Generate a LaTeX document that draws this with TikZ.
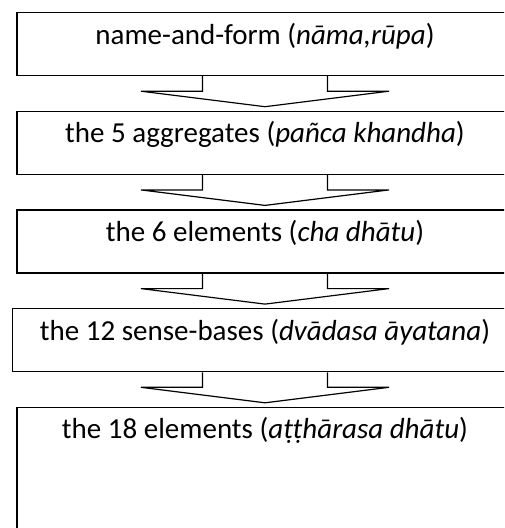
\documentclass[tikz,border=0pt]{standalone}
\usepackage{fontspec}
\setmainfont{Carlito}
\usetikzlibrary{positioning,math}

\begin{document}
\begin{tikzpicture}[x=1pt,y=-1pt,node distance=34.5pt,
    stagebox/.style={draw, line width=1.2pt, minimum width=496pt, inner xsep=0pt, inner ysep=0pt,
      text height=31.5pt, text depth=31.5pt, font=\fontsize{29}{35}\selectfont},
    notch/.style={line width=1.2pt}]
      \tikzmath{\stem = 62.5; \wing = 124; \drop = 15; \gap = 4;}
      \clip (0,0) rectangle (504,528);
      \node[stagebox, anchor=north] (nama) at (265,12) {name-and-form (\textit{nāma,rūpa})};
      \node[stagebox, below=of nama] (khandha) {the 5 aggregates (\textit{pañca khandha})};
      \node[stagebox, below=of khandha] (cha) {the 6 elements (\textit{cha dhātu})};
      \node[stagebox, below=of cha, minimum width=505pt] (ayatana) {the 12 sense-bases (\textit{dvādasa āyatana})};
      \node[stagebox, below=of ayatana, text depth=150pt] (dhatu) {the 18 elements (\textit{aṭṭhārasa dhātu})};
      \foreach \a/\b in {nama/khandha, khandha/cha, cha/ayatana, ayatana/dhatu}
        \draw[notch] ([xshift=-\stem pt]\a.south) -- ([xshift=-\stem pt, yshift=-\drop pt]\a.south)
          -- ([xshift=-\wing pt, yshift=-\drop pt]\a.south) -- ([yshift=\gap pt]\b.north)
          -- ([xshift=\wing pt, yshift=-\drop pt]\a.south) -- ([xshift=\stem pt, yshift=-\drop pt]\a.south)
          -- ([xshift=\stem pt]\a.south);
    \end{tikzpicture}
\end{document}
